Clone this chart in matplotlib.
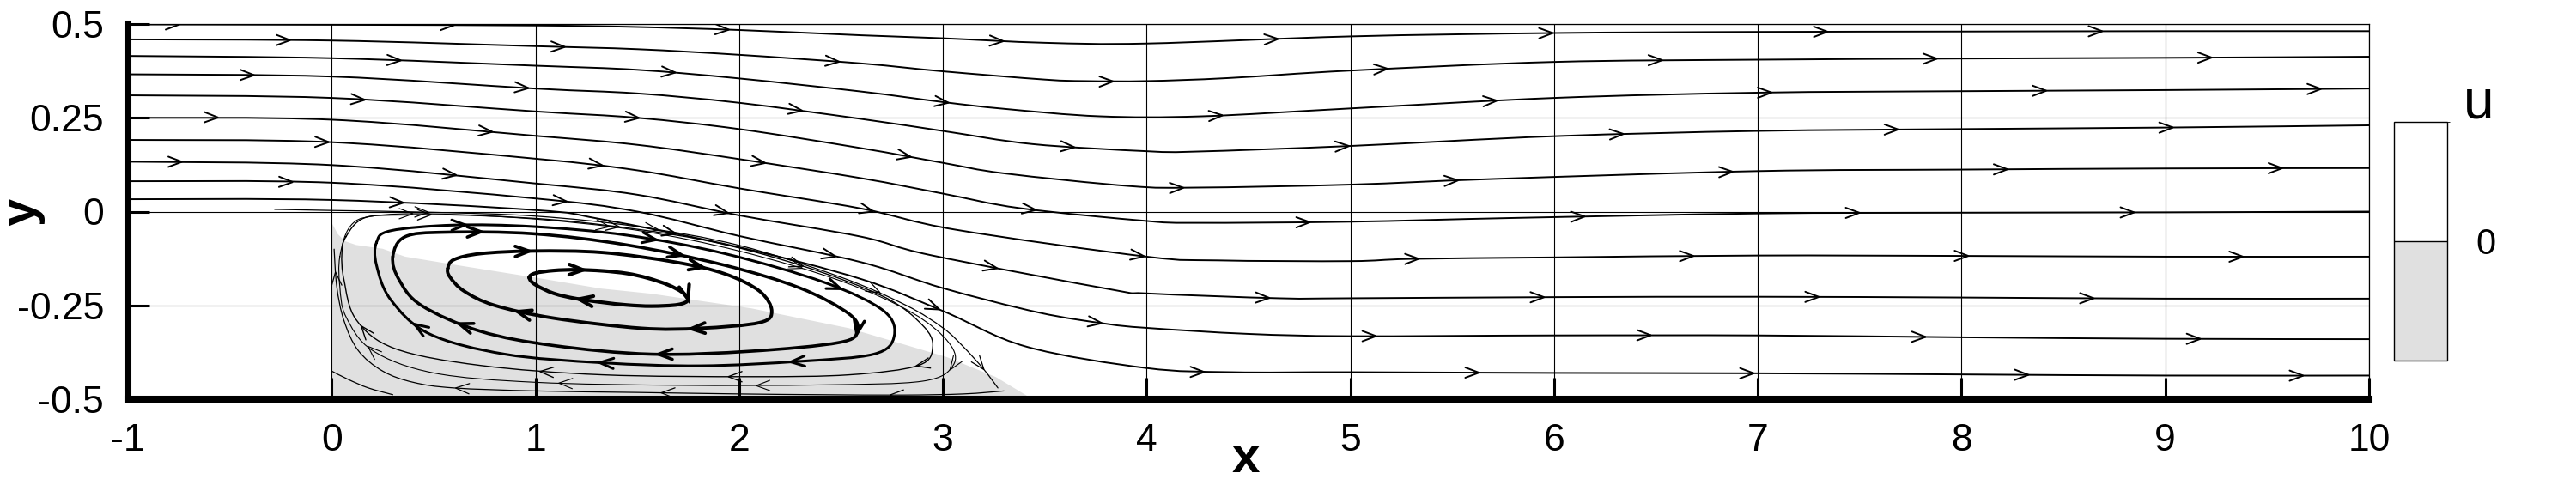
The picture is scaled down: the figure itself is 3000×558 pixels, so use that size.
import numpy as np
import matplotlib
matplotlib.use('Agg')
import matplotlib.pyplot as plt
from matplotlib.path import Path
from matplotlib.patches import PathPatch
from matplotlib import font_manager
from matplotlib.colors import ListedColormap, BoundaryNorm
import matplotlib.cm as cm

names = {f.name for f in font_manager.fontManager.ttflist}
FONT = 'Liberation Sans Narrow' if 'Liberation Sans Narrow' in names else 'Liberation Sans'
plt.rcParams['font.family'] = [FONT, 'DejaVu Sans']

# ---------------- data ----------------
x_ticks = [-1, 0, 1, 2, 3, 4, 5, 6, 7, 8, 9, 10]
x_tick_labels = ['-1', '0', '1', '2', '3', '4', '5', '6', '7', '8', '9', '10']
y_ticks = [-0.5, -0.25, 0, 0.25, 0.5]
y_tick_labels = ['-0.5', '-0.25', '0', '0.25', '0.5']

# boundary of the u<0 region (grey)
zero_u_x = [0.0, 0.03, 0.066, 0.12, 0.25, 0.36, 0.63, 1.0, 1.32, 1.57, 2.06, 2.54, 3.02, 3.26, 3.41, 3.43]
zero_u_y = [-0.03, -0.06, -0.079, -0.089, -0.099, -0.12, -0.144, -0.176, -0.205, -0.219, -0.258, -0.311, -0.388, -0.441, -0.49, -0.5]

# through-flow streamlines
L1_x = [-1, 0, 1, 1.5, 2, 2.6, 3.0, 3.5, 4.0, 5.0, 6.0, 7.0, 8.0, 9.0, 10.0]
L1_y = [0.499, 0.498, 0.496, 0.492, 0.484, 0.470, 0.462, 0.450, 0.448, 0.467, 0.476, 0.479, 0.480, 0.481, 0.481]
L2_x = [-1, 0, 1, 1.5, 2, 2.6, 3.0, 3.5, 3.7, 4.0, 4.4, 5.0, 6.0, 7.0, 8.0, 9.0, 10.0]
L2_y = [0.459, 0.456, 0.441, 0.433, 0.418, 0.395, 0.374, 0.352, 0.348, 0.348, 0.356, 0.376, 0.399, 0.405, 0.408, 0.410, 0.413]
L3_x = [-1, 0, 1, 1.5, 2, 2.6, 3.0, 3.3, 3.77, 4.27, 5.0, 6.0, 7.0, 8.0, 9.0, 10.0]
L3_y = [0.415, 0.409, 0.389, 0.378, 0.355, 0.320, 0.292, 0.274, 0.254, 0.254, 0.275, 0.303, 0.317, 0.321, 0.324, 0.328]
L4_x = [-1, 0, 1, 1.5, 2, 2.6, 3.0, 3.44, 4.0, 4.24, 5.0, 6.0, 7.0, 8.0, 9.0, 10.0]
L4_y = [0.366, 0.360, 0.328, 0.315, 0.290, 0.247, 0.215, 0.180, 0.161, 0.160, 0.175, 0.201, 0.215, 0.220, 0.224, 0.230]
L5_x = [-1, 0, 1, 1.5, 2, 2.6, 3.0, 3.3, 3.92, 4.24, 5.0, 5.7, 7.0, 8.0, 9.0, 10.0]
L5_y = [0.310, 0.303, 0.267, 0.250, 0.220, 0.169, 0.130, 0.102, 0.068, 0.064, 0.072, 0.087, 0.108, 0.112, 0.115, 0.116]
L6_x = [-1, 0, 1, 1.5, 2, 2.6, 3.0, 3.38, 4.0, 4.24, 5.0, 5.8, 7.0, 8.0, 9.0, 10.0]
L6_y = [0.250, 0.245, 0.202, 0.178, 0.140, 0.089, 0.048, 0.009, -0.025, -0.030, -0.027, -0.017, -0.005, -0.003, -0.002, 0.0]
L7_x = [-1, 0, 1, 1.5, 2, 2.6, 3.06, 4.0, 4.35, 5.0, 5.3, 6.0, 7.0, 8.0, 9.0, 10.0]
L7_y = [0.191, 0.185, 0.141, 0.110, 0.062, 0.008, -0.048, -0.120, -0.130, -0.132, -0.126, -0.122, -0.117, -0.118, -0.120, -0.120]
L8_x = [-1, 0, 1, 1.5, 2, 2.6, 2.94, 3.83, 4.0, 4.65, 5.0, 6.0, 7.0, 8.0, 9.0, 10.0]
L8_y = [0.133, 0.124, 0.075, 0.045, -0.010, -0.067, -0.116, -0.208, -0.218, -0.231, -0.231, -0.228, -0.227, -0.229, -0.232, -0.232]
L9_x = [-1, 0, 1, 1.5, 2, 2.6, 3.0, 3.47, 3.8, 4.0, 4.5, 5.0, 6.0, 7.0, 8.0, 9.0, 10.0]
L9_y = [0.081, 0.077, 0.035, 0.0, -0.065, -0.135, -0.204, -0.269, -0.299, -0.310, -0.326, -0.332, -0.330, -0.330, -0.335, -0.339, -0.340]
L10_x = [-1, 0, 1, 1.32, 2, 2.6, 3.0, 3.41, 4.0, 4.42, 5.0, 6.0, 7.0, 8.0, 9.0, 10.0]
L10_y = [0.033, 0.031, 0.004, -0.02, -0.095, -0.18, -0.265, -0.36, -0.417, -0.428, -0.428, -0.430, -0.431, -0.434, -0.437, -0.437]
# separating streamline
L11_x = [-0.28, 0.0, 0.5, 1.0, 1.5, 2.0, 2.5, 2.82, 3.0, 3.1, 3.2, 3.27]
L11_y = [0.006, 0.003, -0.002, -0.012, -0.04, -0.09, -0.175, -0.25, -0.31, -0.36, -0.42, -0.47]
# near-wall reverse flow and corner line
R1_x = [3.3, 3.1, 2.8, 2.4, 2.0, 1.5, 1.0, 0.6, 0.4, 0.25, 0.13, 0.06, 0.025, 0.012]
R1_y = [-0.478, -0.486, -0.489, -0.488, -0.486, -0.482, -0.478, -0.47, -0.455, -0.425, -0.37, -0.29, -0.2, -0.1]
C1_x = [0.0, 0.08, 0.18, 0.3]
C1_y = [-0.425, -0.447, -0.47, -0.488]

# recirculation loops (clockwise)
loop1_x = [0.97, 1.0, 1.09, 1.2, 1.33, 1.45, 1.55, 1.65, 1.72, 1.75, 1.70, 1.57, 1.45, 1.33, 1.2, 1.09, 1.0]
loop1_y = [-0.176, -0.164, -0.157, -0.155, -0.158, -0.165, -0.177, -0.195, -0.215, -0.235, -0.248, -0.252, -0.249, -0.242, -0.232, -0.218, -0.195]
loop2_x = [0.57, 0.60, 0.73, 0.99, 1.33, 1.69, 1.93, 2.10, 2.16, 2.10, 1.81, 1.52, 1.09, 0.80, 0.65, 0.58]
loop2_y = [-0.151, -0.128, -0.112, -0.105, -0.109, -0.135, -0.166, -0.212, -0.265, -0.296, -0.311, -0.311, -0.284, -0.25, -0.212, -0.174]
loop3_x = [0.30, 0.36, 0.56, 0.99, 1.45, 1.93, 2.30, 2.54, 2.58, 2.49, 2.06, 1.57, 1.09, 0.73, 0.44, 0.33]
loop3_y = [-0.120, -0.067, -0.055, -0.059, -0.089, -0.143, -0.204, -0.273, -0.319, -0.349, -0.372, -0.38, -0.357, -0.319, -0.25, -0.181]
loop4_x = [0.22, 0.29, 0.6, 0.99, 1.45, 1.93, 2.42, 2.71, 2.76, 2.66, 2.30, 1.81, 1.33, 0.85, 0.48, 0.29, 0.22]
loop4_y = [-0.082, -0.051, -0.036, -0.04, -0.063, -0.112, -0.189, -0.265, -0.334, -0.38, -0.399, -0.411, -0.403, -0.38, -0.326, -0.235, -0.143]
loop5_x = [0.07, 0.16, 0.36, 0.73, 1.21, 1.81, 2.30, 2.71, 2.90, 2.95, 2.88, 2.54, 2.06, 1.33, 0.73, 0.31, 0.12, 0.06, 0.05]
loop5_y = [-0.067, -0.017, -0.009, -0.011, -0.028, -0.074, -0.143, -0.227, -0.303, -0.36, -0.41, -0.435, -0.44, -0.435, -0.41, -0.365, -0.288, -0.181, -0.112]
loop6_x = [0.04, 0.09, 0.2, 0.5, 1.0, 1.5, 2.0, 2.5, 2.85, 3.03, 3.05, 2.9, 2.4, 1.7, 1.0, 0.5, 0.2, 0.07, 0.04]
loop6_y = [-0.12, -0.04, -0.012, -0.006, -0.02, -0.05, -0.105, -0.185, -0.27, -0.35, -0.41, -0.452, -0.462, -0.463, -0.455, -0.43, -0.37, -0.28, -0.2]

# colour legend
legend_levels = [-1, 0, 1]
legend_colors = ['#e0e0e0', '#ffffff']
legend_ticks = [0]

# ---------------- drawing ----------------
W, H, DPI = 30, 5.58, 100
fig = plt.figure(figsize=(W, H), dpi=DPI)
ax = fig.add_axes([149 / 3000, 93 / 558, 2610 / 3000, 437 / 558])
ax.set_xlim(-1, 10)
ax.set_ylim(-0.5, 0.5)

# grey u<0 region
fx = list(zero_u_x) + [0.0]
fy = list(zero_u_y) + [-0.5]
ax.fill(fx, fy, color='#e0e0e0', lw=0, zorder=0.5)


def bezier_path(xs, ys, closed=False):
    P = np.column_stack([xs, ys]).astype(float)
    n = len(P)
    verts = [P[0]]
    codes = [Path.MOVETO]
    nseg = n if closed else n - 1
    for i in range(nseg):
        if closed:
            p0, p1, p2, p3 = P[(i - 1) % n], P[i], P[(i + 1) % n], P[(i + 2) % n]
        else:
            p0 = P[i - 1] if i > 0 else P[i]
            p1 = P[i]
            p2 = P[i + 1]
            p3 = P[i + 2] if i + 2 < n else P[i + 1]
        c1 = p1 + (p2 - p0) / 6.0
        c2 = p2 - (p3 - p1) / 6.0
        verts += [c1, c2, p2]
        codes += [Path.CURVE4] * 3
    return Path(verts, codes)


def draw_line(xs, ys, lw, closed=False, arrows=None, spacing=None, offset=0.0):
    path = bezier_path(xs, ys, closed)
    ax.add_patch(PathPatch(path, fill=False, lw=lw, ec='black', zorder=3,
                           capstyle='round', joinstyle='round'))
    poly = path.to_polygons(closed_only=False)[0]
    disp = ax.transData.transform(poly)
    seg = np.hypot(np.diff(disp[:, 0]), np.diff(disp[:, 1]))
    s = np.concatenate([[0], np.cumsum(seg)])
    total = s[-1]
    if arrows is not None:
        pos = [f * total for f in arrows]
    else:
        pos = list(np.arange(offset, total - 20, spacing))
    inv = ax.transData.inverted()
    for p in pos:
        k = np.searchsorted(s, p)
        k = min(max(k, 1), len(s) - 1)
        t = (p - s[k - 1]) / max(seg[k - 1], 1e-9)
        tip = disp[k - 1] + t * (disp[k] - disp[k - 1])
        d = disp[k] - disp[k - 1]
        d = d / max(np.hypot(*d), 1e-9)
        nrm = np.array([-d[1], d[0]])
        L, Wd = 16.0, 6.0
        w1 = tip - L * d + Wd * nrm
        w2 = tip - L * d - Wd * nrm
        pts = inv.transform(np.array([w1, tip, w2]))
        ax.plot(pts[:, 0], pts[:, 1], color='black', lw=lw, zorder=3,
                solid_capstyle='round', solid_joinstyle='miter')


through = [(L1_x, L1_y), (L2_x, L2_y), (L3_x, L3_y), (L4_x, L4_y), (L5_x, L5_y),
           (L6_x, L6_y), (L7_x, L7_y), (L8_x, L8_y), (L9_x, L9_y), (L10_x, L10_y)]
for i, (xs, ys) in enumerate(through):
    draw_line(xs, ys, 1.4, spacing=320, offset=60 + ((i * 0.43) % 1.0) * 300)

draw_line(L11_x, L11_y, 0.9, arrows=[0.2, 0.5, 0.8, 0.97])
draw_line(R1_x, R1_y, 0.9, arrows=[0.15, 0.45, 0.72, 0.97])
draw_line(C1_x, C1_y, 0.9, arrows=[])

loops = [(loop1_x, loop1_y, 3.0, 3), (loop2_x, loop2_y, 2.8, 4), (loop3_x, loop3_y, 2.6, 5),
         (loop4_x, loop4_y, 2.2, 6), (loop5_x, loop5_y, 1.0, 7), (loop6_x, loop6_y, 0.8, 7)]
for xs, ys, lw, na in loops:
    fr = [(k + 0.5) / na for k in range(na)]
    draw_line(xs, ys, lw, closed=True, arrows=fr)

# axes styling
ax.set_xticks(x_ticks)
ax.set_xticklabels(x_tick_labels)
ax.set_yticks(y_ticks)
ax.set_yticklabels(y_tick_labels)
ax.tick_params(direction='in', length=18, width=2.2, labelsize=32, colors='black')
ax.tick_params(axis='x', pad=20)
ax.tick_params(axis='y', pad=20)
ax.grid(True, color='black', lw=0.8)
for side in ['left', 'bottom']:
    ax.spines[side].set_linewidth(5.8)
for side in ['top', 'right']:
    ax.spines[side].set_linewidth(0.9)

fig.text(1451 / 3000, 1 - 535 / 558, 'x', fontsize=42, fontweight='bold', ha='center', va='center')
fig.text(26 / 3000, 1 - 247 / 558, 'y', fontsize=42, fontweight='bold', ha='center', va='center',
         rotation=90)

# colour legend
cax = fig.add_axes([2788 / 3000, 138 / 558, 62 / 3000, 278 / 558])
cmap = ListedColormap(legend_colors)
norm = BoundaryNorm(legend_levels, cmap.N)
sm = cm.ScalarMappable(norm=norm, cmap=cmap)
cb = fig.colorbar(sm, cax=cax, ticks=legend_ticks, drawedges=True)
cb.outline.set_linewidth(1.0)
cb.dividers.set_linewidth(1.0)
cb.ax.tick_params(length=0, labelsize=30, pad=24)
cb.ax.set_yticklabels(['0'])
fig.text(2887 / 3000, 1 - 120 / 558, 'u', fontsize=46, ha='center', va='center')

fig.savefig('out.png', dpi=DPI)
